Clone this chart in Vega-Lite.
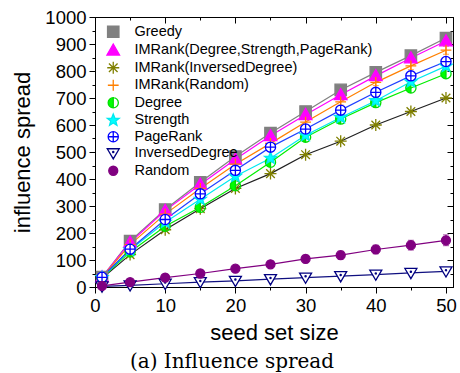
{
  "$schema": "https://vega.github.io/schema/vega-lite/v6.json",
  "width": 358,
  "height": 270,
  "autosize": {"type": "none"},
  "padding": {"left": 95, "top": 17, "right": 7, "bottom": 86},
  "background": "white",
  "config": {
    "view": {"stroke": "black", "strokeWidth": 1},
    "font": "Liberation Sans",
    "axis": {"grid": false, "domainColor": "black", "tickColor": "black", "labelColor": "black", "titleColor": "black", "labelFont": "Liberation Sans", "titleFont": "Liberation Sans", "titleFontWeight": "normal", "labelOverlap": false, "labelFlush": false}
  },
  "title": {"text": "(a) Influence spread", "orient": "bottom", "font": "DejaVu Serif", "fontSize": 20, "fontWeight": "normal", "color": "black", "offset": 8, "dx": -42},
  "data": {"values": [
    {"s":"Greedy","x":1,"y":37},{"s":"Greedy","x":5,"y":170},{"s":"Greedy","x":10,"y":287},{"s":"Greedy","x":15,"y":388},{"s":"Greedy","x":20,"y":483},{"s":"Greedy","x":25,"y":570},{"s":"Greedy","x":30,"y":650},{"s":"Greedy","x":35,"y":730},{"s":"Greedy","x":40,"y":795},{"s":"Greedy","x":45,"y":857},{"s":"Greedy","x":50,"y":922},
    {"s":"IMRank(Degree,Strength,PageRank)","x":1,"y":37},{"s":"IMRank(Degree,Strength,PageRank)","x":5,"y":165},{"s":"IMRank(Degree,Strength,PageRank)","x":10,"y":283},{"s":"IMRank(Degree,Strength,PageRank)","x":15,"y":380},{"s":"IMRank(Degree,Strength,PageRank)","x":20,"y":473},{"s":"IMRank(Degree,Strength,PageRank)","x":25,"y":560},{"s":"IMRank(Degree,Strength,PageRank)","x":30,"y":638},{"s":"IMRank(Degree,Strength,PageRank)","x":35,"y":712},{"s":"IMRank(Degree,Strength,PageRank)","x":40,"y":782},{"s":"IMRank(Degree,Strength,PageRank)","x":45,"y":848},{"s":"IMRank(Degree,Strength,PageRank)","x":50,"y":911},
    {"s":"IMRank(InversedDegree)","x":1,"y":32},{"s":"IMRank(InversedDegree)","x":5,"y":120},{"s":"IMRank(InversedDegree)","x":10,"y":212},{"s":"IMRank(InversedDegree)","x":15,"y":290},{"s":"IMRank(InversedDegree)","x":20,"y":365},{"s":"IMRank(InversedDegree)","x":25,"y":420},{"s":"IMRank(InversedDegree)","x":30,"y":490},{"s":"IMRank(InversedDegree)","x":35,"y":540},{"s":"IMRank(InversedDegree)","x":40,"y":600},{"s":"IMRank(InversedDegree)","x":45,"y":650},{"s":"IMRank(InversedDegree)","x":50,"y":700},
    {"s":"IMRank(Random)","x":1,"y":36,"e":3},{"s":"IMRank(Random)","x":5,"y":157,"e":5},{"s":"IMRank(Random)","x":10,"y":270,"e":6},{"s":"IMRank(Random)","x":15,"y":365,"e":8},{"s":"IMRank(Random)","x":20,"y":455,"e":8},{"s":"IMRank(Random)","x":25,"y":532,"e":10},{"s":"IMRank(Random)","x":30,"y":611,"e":10},{"s":"IMRank(Random)","x":35,"y":686,"e":12},{"s":"IMRank(Random)","x":40,"y":758,"e":12},{"s":"IMRank(Random)","x":45,"y":819,"e":14},{"s":"IMRank(Random)","x":50,"y":877,"e":15},
    {"s":"Degree","x":1,"y":34},{"s":"Degree","x":5,"y":130},{"s":"Degree","x":10,"y":225},{"s":"Degree","x":15,"y":295},{"s":"Degree","x":20,"y":375},{"s":"Degree","x":25,"y":462},{"s":"Degree","x":30,"y":555},{"s":"Degree","x":35,"y":622},{"s":"Degree","x":40,"y":683},{"s":"Degree","x":45,"y":737},{"s":"Degree","x":50,"y":790},
    {"s":"Strength","x":1,"y":35},{"s":"Strength","x":5,"y":137},{"s":"Strength","x":10,"y":240},{"s":"Strength","x":15,"y":325},{"s":"Strength","x":20,"y":410},{"s":"Strength","x":25,"y":477},{"s":"Strength","x":30,"y":562},{"s":"Strength","x":35,"y":628},{"s":"Strength","x":40,"y":690},{"s":"Strength","x":45,"y":760},{"s":"Strength","x":50,"y":818},
    {"s":"PageRank","x":1,"y":36},{"s":"PageRank","x":5,"y":140},{"s":"PageRank","x":10,"y":250},{"s":"PageRank","x":15,"y":345},{"s":"PageRank","x":20,"y":432},{"s":"PageRank","x":25,"y":518},{"s":"PageRank","x":30,"y":585},{"s":"PageRank","x":35,"y":655},{"s":"PageRank","x":40,"y":721},{"s":"PageRank","x":45,"y":782},{"s":"PageRank","x":50,"y":835},
    {"s":"InversedDegree","x":1,"y":2},{"s":"InversedDegree","x":5,"y":6},{"s":"InversedDegree","x":10,"y":12},{"s":"InversedDegree","x":15,"y":18},{"s":"InversedDegree","x":20,"y":23},{"s":"InversedDegree","x":25,"y":29},{"s":"InversedDegree","x":30,"y":35},{"s":"InversedDegree","x":35,"y":40},{"s":"InversedDegree","x":40,"y":46},{"s":"InversedDegree","x":45,"y":52},{"s":"InversedDegree","x":50,"y":58},
    {"s":"Random","x":1,"y":4,"e":2},{"s":"Random","x":5,"y":18,"e":4},{"s":"Random","x":10,"y":35,"e":6},{"s":"Random","x":15,"y":50,"e":8},{"s":"Random","x":20,"y":68,"e":10},{"s":"Random","x":25,"y":84,"e":12},{"s":"Random","x":30,"y":104,"e":14},{"s":"Random","x":35,"y":118,"e":15},{"s":"Random","x":40,"y":139,"e":16},{"s":"Random","x":45,"y":155,"e":18},{"s":"Random","x":50,"y":173,"e":20}
  ]},
  "layer": [
    {
      "mark": {"type": "line", "strokeWidth": 1.2},
      "encoding": {
        "x": {"field": "x", "type": "quantitative", "scale": {"domain": [0, 51], "nice": false, "zero": false},
          "axis": {"orient": "bottom", "values": [0,5,10,15,20,25,30,35,40,45,50], "labelExpr": "datum.value % 10 === 0 ? datum.label : ''", "tickSize": {"condition": {"test": "datum.value % 10 === 0", "value": 6}, "value": 3}, "labelFontSize": 18.5, "labelPadding": 3, "title": "seed set size", "titleFontSize": 22, "titlePadding": 8}},
        "y": {"field": "y", "type": "quantitative", "scale": {"domain": [0, 1000], "nice": false},
          "axis": {"orient": "left", "format": "d", "values": [0,50,100,150,200,250,300,350,400,450,500,550,600,650,700,750,800,850,900,950,1000], "labelExpr": "datum.value % 100 === 0 ? datum.label : ''", "tickSize": {"condition": {"test": "datum.value % 100 === 0", "value": 6}, "value": 3}, "labelFontSize": 18.5, "labelPadding": 3, "title": "influence spread", "titleFontSize": 22, "titlePadding": 10}},
        "color": {"field": "s", "type": "nominal",
          "scale": {"domain": ["Greedy","IMRank(Degree,Strength,PageRank)","IMRank(InversedDegree)","IMRank(Random)","Degree","Strength","PageRank","InversedDegree","Random"],
                    "range": ["#808080","#FF00FF","#202020","#FF8000","#00EE00","#00E8F0","#2040FF","#101080","#800080"]},
          "legend": null}
      }
    },
    {
      "transform": [{"filter": "isValid(datum.e)"}],
      "mark": {"type": "errorbar", "ticks": {"size": 6}, "thickness": 1},
      "encoding": {
        "x": {"field": "x", "type": "quantitative", "axis": null},
        "y": {"field": "y", "type": "quantitative", "axis": null},
        "yError": {"field": "e"},
        "color": {"field": "s", "type": "nominal", "scale": {"domain": ["IMRank(Random)","Random"], "range": ["#FF8000","#800080"]}, "legend": null}
      }
    },
    {
      "mark": {"type": "point", "size": 144, "strokeWidth": 1.3, "opacity": 1},
      "encoding": {
        "x": {"field": "x", "type": "quantitative",
          "axis": {"orient": "top", "values": [0,5,10,15,20,25,30,35,40,45,50], "labels": false, "title": null, "tickSize": {"condition": {"test": "datum.value % 10 === 0", "value": -6}, "value": -3}}},
        "y": {"field": "y", "type": "quantitative",
          "axis": {"orient": "right", "values": [0,50,100,150,200,250,300,350,400,450,500,550,600,650,700,750,800,850,900,950,1000], "labels": false, "title": null, "tickSize": {"condition": {"test": "datum.value % 100 === 0", "value": -6}, "value": -3}}},
        "shape": {"field": "s", "type": "nominal",
          "scale": {"domain": ["Greedy","IMRank(Degree,Strength,PageRank)","IMRank(InversedDegree)","IMRank(Random)","Degree","Strength","PageRank","InversedDegree","Random"],
                    "range": [
                      "M-0.95,-0.95L0.95,-0.95L0.95,0.95L-0.95,0.95Z",
                      "M0,-1.05L1.05,0.8L-1.05,0.8Z",
                      "M0,0M0,-1L0,1M-1,0L1,0M-0.72,-0.72L0.72,0.72M-0.72,0.72L0.72,-0.72",
                      "M0,0M0,-0.9L0,0.9M-0.9,0L0.9,0",
                      "M0,-0.85A0.85,0.85,0,0,0,0,0.85ZM0,-0.85A0.85,0.85,0,0,1,0,0.85A0.85,0.85,0,0,0,0,-0.85",
                      "M0,-1.05L0.265,-0.364L0.999,-0.324L0.428,0.139L0.617,0.849L0,0.45L-0.617,0.849L-0.428,0.139L-0.999,-0.324L-0.265,-0.364Z",
                      "M-0.85,0A0.85,0.85,0,1,0,0.85,0A0.85,0.85,0,1,0,-0.85,0ZM-0.85,0L0.85,0M0,-0.85L0,0.85",
                      "M-1,-0.75L1,-0.75L0,0.95ZM0.1,-0.2A0.1,0.1,0,1,0,-0.1,-0.2A0.1,0.1,0,1,0,0.1,-0.2Z",
                      "M-0.75,0A0.75,0.75,0,1,0,0.75,0A0.75,0.75,0,1,0,-0.75,0Z"
                    ]},
          "legend": {"orient": "none", "legendX": 11, "legendY": 7.5, "title": null, "symbolSize": 144, "symbolStrokeWidth": 1.3, "labelFont": "Liberation Sans", "labelFontSize": 14.5, "labelColor": "black", "labelLimit": 0, "labelOffset": 14, "rowPadding": 0.5, "padding": 0}},
        "stroke": {"field": "s", "type": "nominal",
          "scale": {"domain": ["Greedy","IMRank(Degree,Strength,PageRank)","IMRank(InversedDegree)","IMRank(Random)","Degree","Strength","PageRank","InversedDegree","Random"],
                    "range": ["#808080","#FF00FF","#808000","#FF8000","#00DD00","#00E8F0","#0000FF","#000080","#800080"]},
          "legend": {"orient": "none", "legendX": 11, "legendY": 7.5, "title": null, "symbolSize": 144, "symbolStrokeWidth": 1.3, "labelFont": "Liberation Sans", "labelFontSize": 14.5, "labelColor": "black", "labelLimit": 0, "labelOffset": 14, "rowPadding": 0.5, "padding": 0}},
        "fill": {"field": "s", "type": "nominal",
          "scale": {"domain": ["Greedy","IMRank(Degree,Strength,PageRank)","IMRank(InversedDegree)","IMRank(Random)","Degree","Strength","PageRank","InversedDegree","Random"],
                    "range": ["#808080","#FF00FF","#808000","#FF8000","#00FF00","#00FFFF","#FFFFFF","#FFFFFF","#800080"]},
          "legend": {"orient": "none", "legendX": 11, "legendY": 7.5, "title": null, "symbolSize": 144, "symbolStrokeWidth": 1.3, "labelFont": "Liberation Sans", "labelFontSize": 14.5, "labelColor": "black", "labelLimit": 0, "labelOffset": 14, "rowPadding": 0.5, "padding": 0}}
      }
    }
  ],
  "resolve": {
    "scale": {"color": "independent", "stroke": "independent", "fill": "independent", "shape": "independent"},
    "axis": {"x": "independent", "y": "independent"},
    "legend": {"color": "independent", "stroke": "independent", "fill": "independent", "shape": "independent"}
  }
}
